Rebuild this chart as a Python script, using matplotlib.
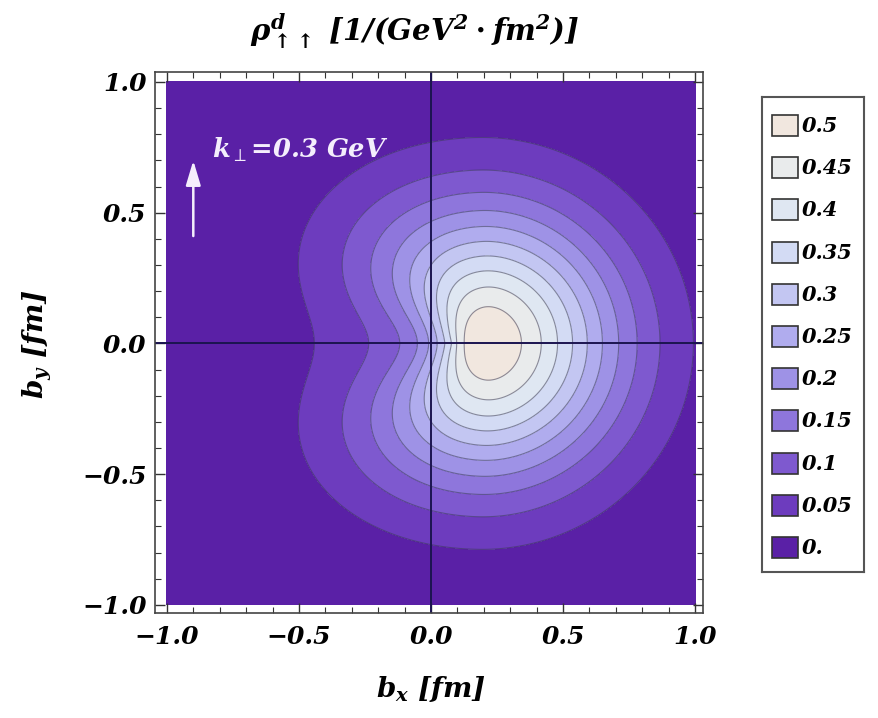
import numpy as np
import matplotlib
matplotlib.use("Agg")
import matplotlib.pyplot as plt
from matplotlib.patches import Rectangle

# ---- chart values ----
levels = [0.0, 0.05, 0.1, 0.15, 0.2, 0.25, 0.3, 0.35, 0.4, 0.45, 0.5, 1.0]
band_colors = ["#5a20a6", "#6d3cbe", "#7e59cf", "#8e76dc", "#9e92e6",
               "#b0acee", "#c3c6f2", "#d3dbf4", "#dfe7f2", "#e9ebec", "#f1e7df"]
legend_labels = ["0.5", "0.45", "0.4", "0.35", "0.3", "0.25", "0.2",
                 "0.15", "0.1", "0.05", "0."]
tick_values = [-1.0, -0.5, 0.0, 0.5, 1.0]
tick_labels = ["\u22121.0", "\u22120.5", "0.0", "0.5", "1.0"]

# shape of the distribution
peak_amp = 0.545
body_center = 0.19
sigma_right = 0.52
sigma_left = 0.62
sigma_y = 0.51
notch_floor = 0.22
notch_shift = 0.07
notch_core = 0.11
notch_p0 = 1.5
notch_p1 = 6.0

SERIF = "DejaVu Serif"
plt.rcParams["mathtext.fontset"] = "custom"
plt.rcParams["mathtext.rm"] = SERIF + ":bold:italic"
plt.rcParams["mathtext.it"] = SERIF + ":bold:italic"
plt.rcParams["mathtext.bf"] = SERIF + ":bold:italic"
plt.rcParams["mathtext.fallback"] = "stix"
FONT = dict(family=SERIF, weight="bold", style="italic")

# ---- field ----
g = np.linspace(-1.0, 1.0, 801)
X, Y = np.meshgrid(g, g)
dx = X - body_center
sx = np.where(dx > 0, sigma_right, sigma_left)
B = peak_amp * np.exp(-(dx / sx) ** 2 - (Y / sigma_y) ** 2)
xs = X - notch_shift
rho = np.sqrt(xs ** 2 + Y ** 2 + notch_core ** 2)
t = xs / rho
p = notch_p0 + notch_p1 * np.sqrt(xs ** 2 + Y ** 2)
W = ((1 - t) / 2) ** p
F = B * (1 - (1 - notch_floor) * W)

fig = plt.figure(figsize=(8.79, 7.18), dpi=100)
ax = fig.add_axes([155 / 879, 1 - 613 / 718, 548 / 879, 541 / 718])
ax.contourf(X, Y, F, levels=levels, colors=band_colors)
ax.contour(X, Y, F, levels=levels[1:-1], colors="#3a3a55", linewidths=0.8, alpha=0.55)
ax.axhline(0, color="#1b1450", lw=1.4)
ax.axvline(0, color="#1b1450", lw=1.4)
ax.set_xlim(-1.045, 1.03)
ax.set_ylim(-1.031, 1.038)

ax.set_xticks(tick_values)
ax.set_yticks(tick_values)
ax.set_xticks(np.round(np.arange(-1.0, 1.01, 0.1), 2), minor=True)
ax.set_yticks(np.round(np.arange(-1.0, 1.01, 0.1), 2), minor=True)
ax.set_xticklabels(tick_labels, fontsize=18, **FONT)
ax.set_yticklabels(tick_labels, fontsize=18, **FONT)
ax.tick_params(which="both", direction="in", top=True, right=True, color="#333333")
ax.tick_params(which="major", length=7, width=1.0)
ax.tick_params(axis="x", which="major", pad=9)
ax.tick_params(axis="y", which="major", pad=6)
ax.tick_params(which="minor", length=4, width=0.8)
for s in ax.spines.values():
    s.set_color("#444444")
    s.set_linewidth(1.2)

# arrow and momentum label
ax.annotate("", xy=(-0.90, 0.71), xytext=(-0.90, 0.40),
            arrowprops=dict(arrowstyle="-|>,head_length=1.5,head_width=0.45",
                            color="#f4eefc", lw=1.8))
ax.text(-0.83, 0.74, r"$k_{\perp}$=0.3 GeV", color="#f4eefc", fontsize=18.5,
        va="center", **FONT)

fig.text(0.472, 0.957, r"$\rho^{d}_{\uparrow\!\uparrow}$ [1/(GeV$^{2}\cdot$fm$^{2}$)]",
         ha="center", va="center", fontsize=21, **FONT)
fig.text(0.490, 0.040, r"$b_x$ [fm]", ha="center", va="center", fontsize=20, **FONT)
fig.text(0.043, 0.52, r"$b_y$ [fm]", ha="center", va="center", rotation=90,
         fontsize=20, **FONT)

# legend
lx0, ly0, lx1, ly1 = 762, 97, 864, 572
lax = fig.add_axes([lx0 / 879, 1 - ly1 / 718, (lx1 - lx0) / 879, (ly1 - ly0) / 718])
lax.set_xlim(0, lx1 - lx0)
lax.set_ylim(ly1 - ly0, 0)
lax.set_xticks([])
lax.set_yticks([])
for s in lax.spines.values():
    s.set_color("#555555")
    s.set_linewidth(1.5)
for i, lab in enumerate(legend_labels):
    col = band_colors[len(band_colors) - 1 - i]
    yy = 18 + i * 42.2
    lax.add_patch(Rectangle((10, yy), 26, 21, facecolor=col, edgecolor="#333333", lw=1.2))
    lax.text(40, yy + 11, lab, va="center", ha="left", fontsize=15, **FONT)

fig.savefig("out.png", dpi=100)
